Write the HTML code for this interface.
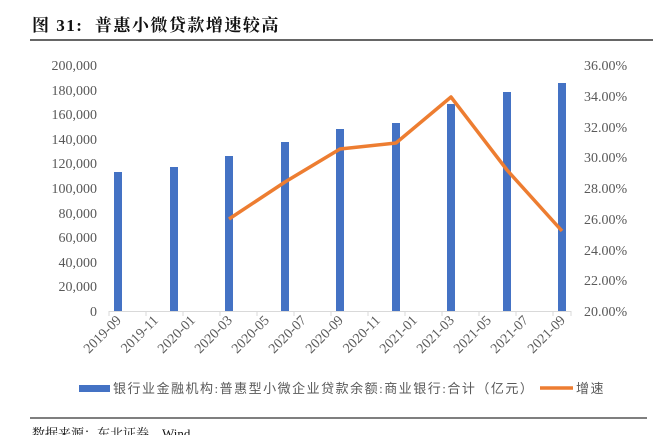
<!DOCTYPE html>
<html><head><meta charset="utf-8"><style>
body{margin:0;background:#fff;width:653px;height:435px;overflow:hidden}
svg{display:block}
</style></head><body>
<svg width="653" height="435" xmlns="http://www.w3.org/2000/svg" font-family="Liberation Serif, Noto Serif CJK SC, serif">
<text x="32" y="31" font-size="17" font-weight="bold" fill="#111" letter-spacing="1.5" xml:space="preserve" font-family="Liberation Serif, Noto Serif CJK SC, serif">图 31:  普惠小微贷款增速较高</text>
<line x1="30" y1="40" x2="653" y2="40" stroke="#333" stroke-width="1.5"/>
<g font-size="14" fill="#595959" text-anchor="end">
<text x="97" y="70">200,000</text><text x="97" y="95">180,000</text><text x="97" y="119">160,000</text><text x="97" y="144">140,000</text><text x="97" y="168">120,000</text><text x="97" y="193">100,000</text><text x="97" y="218">80,000</text><text x="97" y="242">60,000</text><text x="97" y="267">40,000</text><text x="97" y="291">20,000</text><text x="97" y="316">0</text>
</g>
<g font-size="14" fill="#595959">
<text x="584" y="70">36.00%</text><text x="584" y="101">34.00%</text><text x="584" y="132">32.00%</text><text x="584" y="162">30.00%</text><text x="584" y="193">28.00%</text><text x="584" y="224">26.00%</text><text x="584" y="255">24.00%</text><text x="584" y="285">22.00%</text><text x="584" y="316">20.00%</text>
</g>
<g fill="#4472C4">
<rect x="114" y="172" width="8" height="139"/>
<rect x="170" y="167" width="8" height="144"/>
<rect x="225" y="156" width="8" height="155"/>
<rect x="281" y="142" width="8" height="169"/>
<rect x="336" y="129" width="8" height="182"/>
<rect x="392" y="123" width="8" height="188"/>
<rect x="447" y="104" width="8" height="207"/>
<rect x="503" y="92" width="8" height="219"/>
<rect x="558" y="83" width="8" height="228"/>
</g>
<line x1="109" y1="311.5" x2="571" y2="311.5" stroke="#d9d9d9" stroke-width="1"/>
<g stroke="#d9d9d9">
<line x1="109" y1="311" x2="109" y2="316"/><line x1="146" y1="311" x2="146" y2="316"/><line x1="183" y1="311" x2="183" y2="316"/><line x1="220" y1="311" x2="220" y2="316"/><line x1="257" y1="311" x2="257" y2="316"/><line x1="294" y1="311" x2="294" y2="316"/><line x1="331" y1="311" x2="331" y2="316"/><line x1="368" y1="311" x2="368" y2="316"/><line x1="405" y1="311" x2="405" y2="316"/><line x1="442" y1="311" x2="442" y2="316"/><line x1="479" y1="311" x2="479" y2="316"/><line x1="516" y1="311" x2="516" y2="316"/><line x1="553" y1="311" x2="553" y2="316"/><line x1="571" y1="311" x2="571" y2="316"/>
</g>
<polyline fill="none" stroke="#ED7D31" stroke-width="3.5" stroke-linejoin="round" points="229,219 285,182 340,149 396,143 451,97 507,170 562,231"/>
<g font-size="14" fill="#595959" text-anchor="end">
<text transform="translate(122,321) rotate(-45)">2019-09</text>
<text transform="translate(159,321) rotate(-45)">2019-11</text>
<text transform="translate(196,321) rotate(-45)">2020-01</text>
<text transform="translate(233,321) rotate(-45)">2020-03</text>
<text transform="translate(270,321) rotate(-45)">2020-05</text>
<text transform="translate(307,321) rotate(-45)">2020-07</text>
<text transform="translate(344,321) rotate(-45)">2020-09</text>
<text transform="translate(381,321) rotate(-45)">2020-11</text>
<text transform="translate(418,321) rotate(-45)">2021-01</text>
<text transform="translate(455,321) rotate(-45)">2021-03</text>
<text transform="translate(492,321) rotate(-45)">2021-05</text>
<text transform="translate(529,321) rotate(-45)">2021-07</text>
<text transform="translate(566,321) rotate(-45)">2021-09</text>
</g>
<rect x="79" y="385" width="31" height="7" fill="#4472C4"/>
<text x="113" y="393" font-size="13" fill="#595959" letter-spacing="1.5" font-family="Liberation Serif, Noto Sans CJK SC, serif">银行业金融机构:普惠型小微企业贷款余额:商业银行:合计（亿元）</text>
<line x1="540" y1="388" x2="573" y2="388" stroke="#ED7D31" stroke-width="3.5"/>
<text x="576" y="393" font-size="13" fill="#595959" letter-spacing="1.5" font-family="Liberation Serif, Noto Sans CJK SC, serif">增速</text>
<line x1="30" y1="418" x2="647" y2="418" stroke="#333" stroke-width="1.2"/>
<text x="32" y="438" font-size="13" fill="#111">数据来源：东北证券，Wind</text>
</svg>
</body></html>
